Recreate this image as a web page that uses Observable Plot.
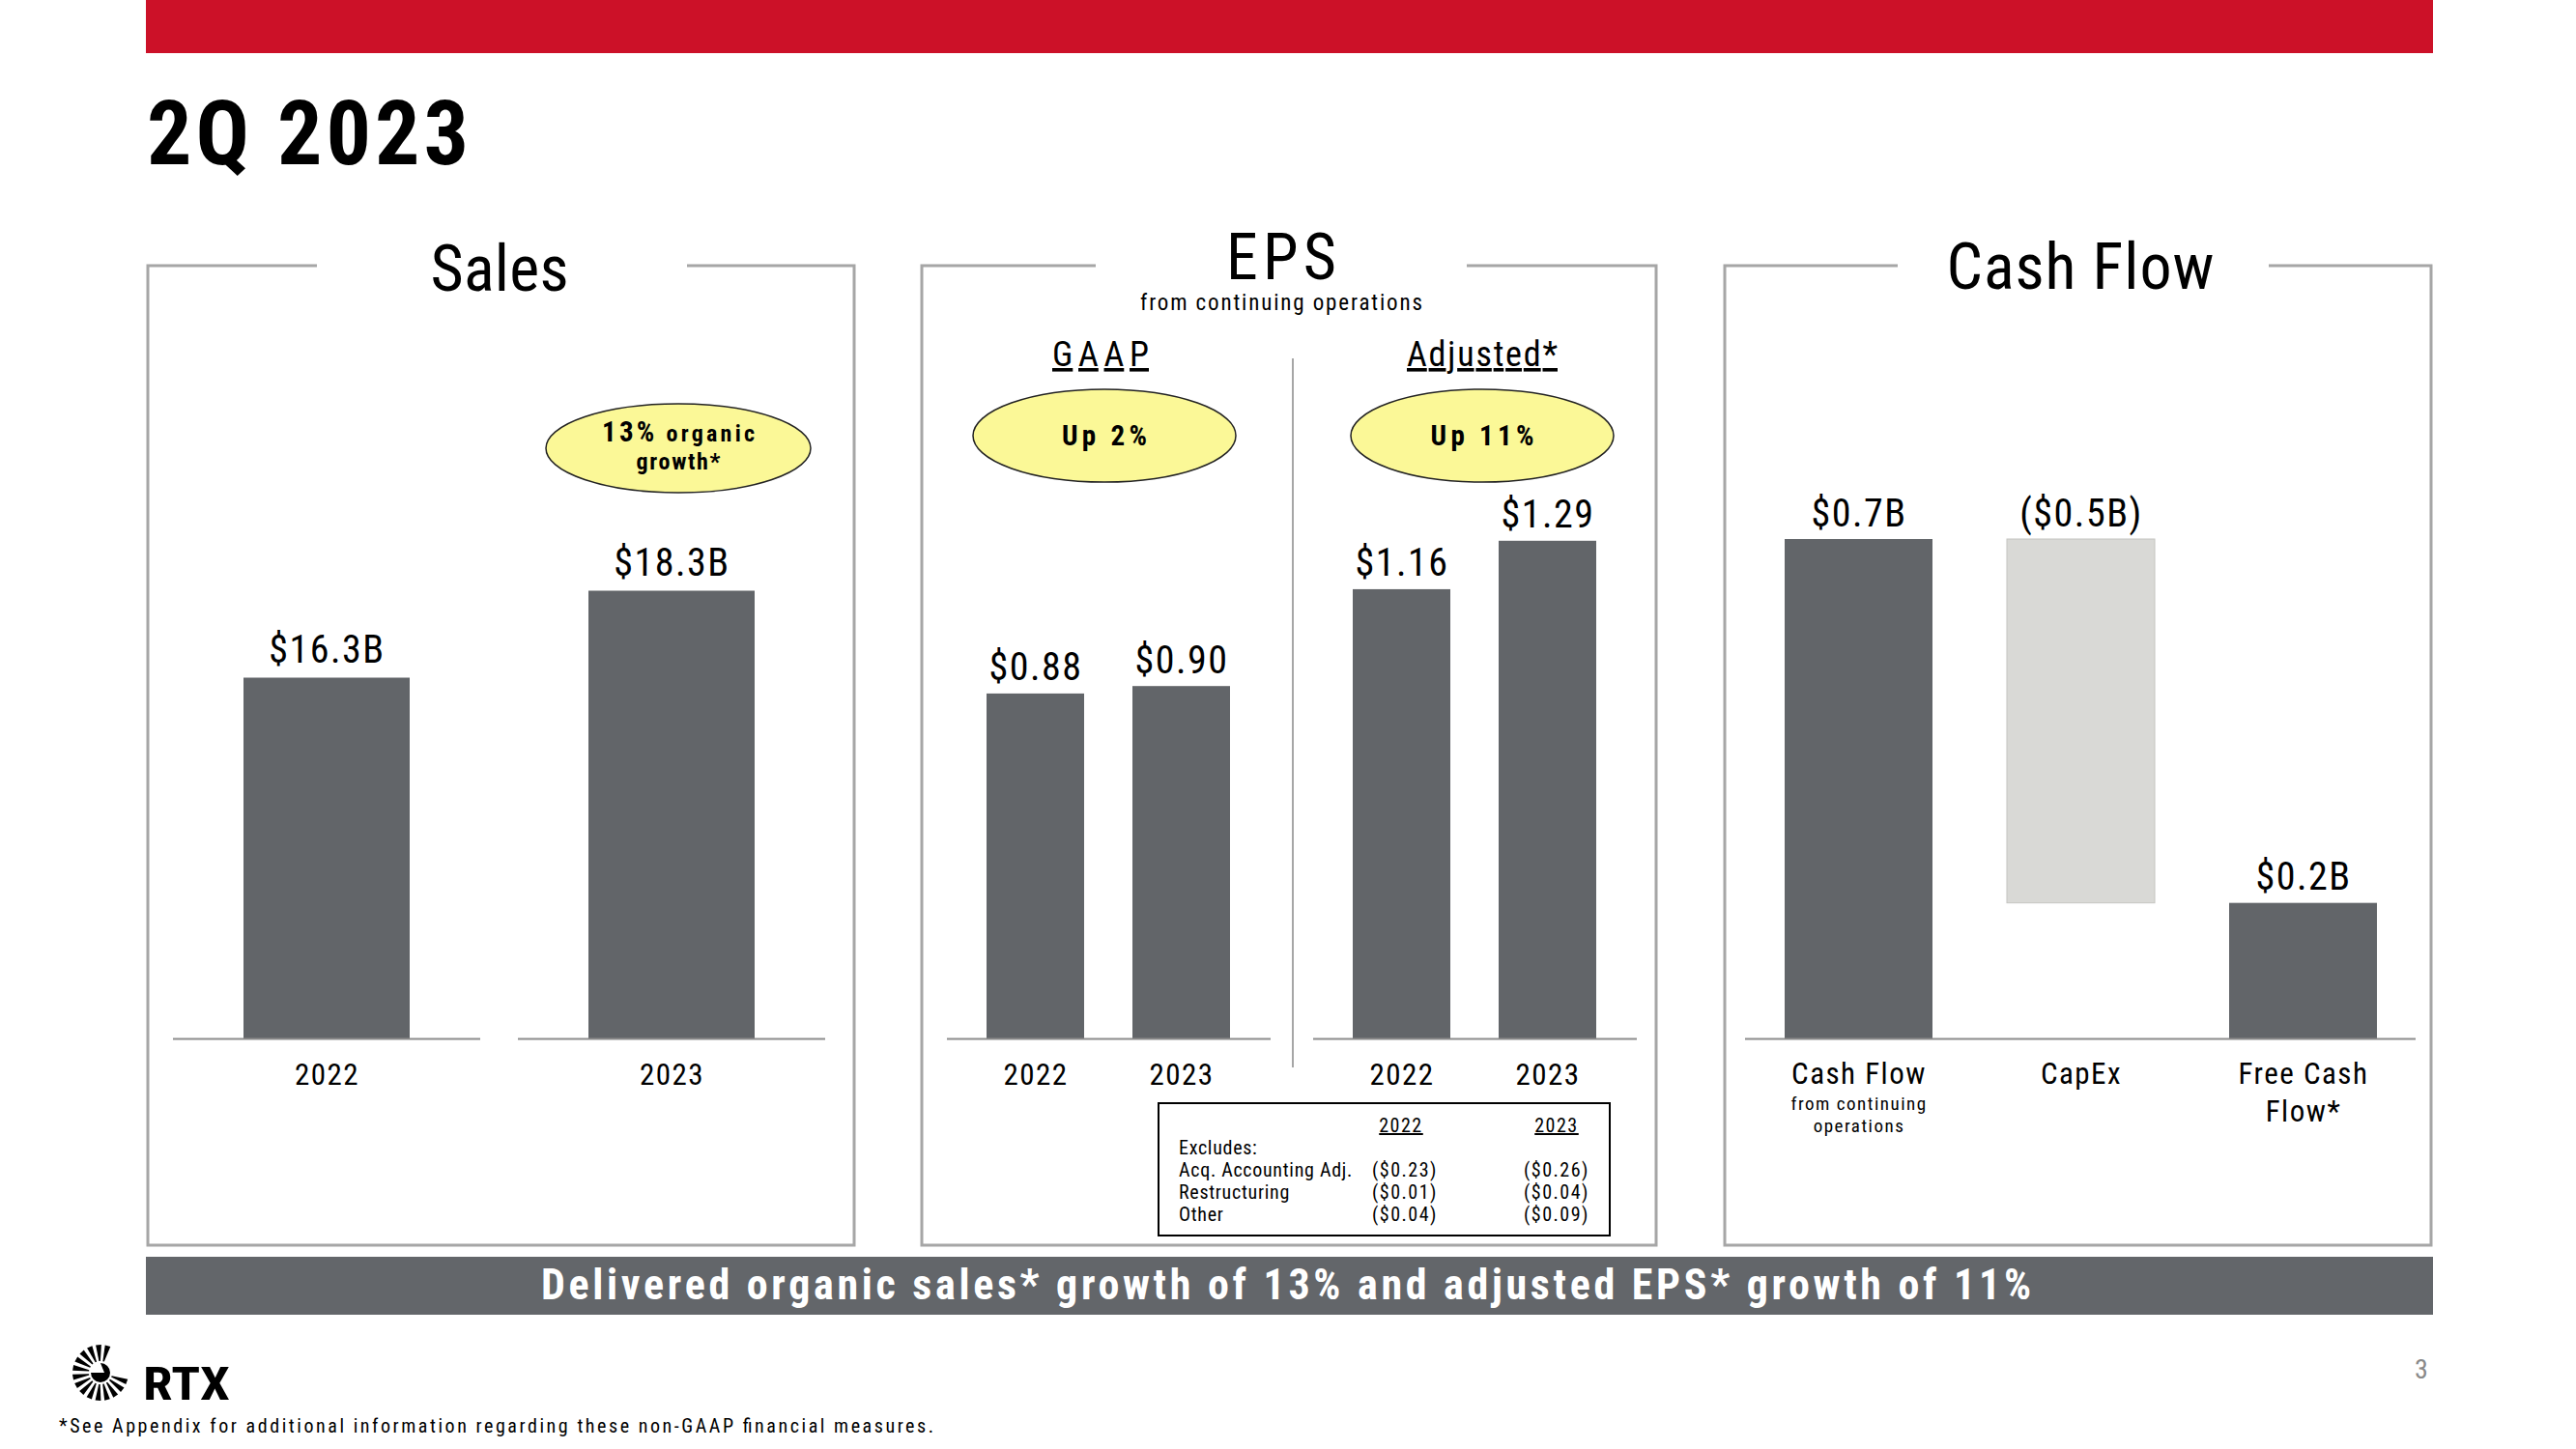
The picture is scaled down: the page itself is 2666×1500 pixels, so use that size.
<!DOCTYPE html>
<html><head><meta charset="utf-8">
<script src="https://cdn.jsdelivr.net/npm/d3@7"></script>
<script src="https://cdn.jsdelivr.net/npm/@observablehq/plot@0.6"></script>
<style>
html,body{margin:0;padding:0;background:#fff}
body{width:2666px;height:1500px;position:relative;overflow:hidden;font-family:'Liberation Sans Narrow','Arial Narrow','Roboto Condensed','DejaVu Sans Condensed',sans-serif}
#deco{position:absolute;left:0;top:0}
#deco text{font-family:'Liberation Sans Narrow','Arial Narrow','Roboto Condensed','DejaVu Sans Condensed',sans-serif}
.holder{position:absolute}
</style></head><body>
<svg id="deco" width="2666" height="1500" viewBox="0 0 2666 1500">
  <rect x="151" y="0" width="2367" height="55" fill="#CC1128"/>
  <text x="152" y="170" font-size="92" font-weight="bold" textLength="333" lengthAdjust="spacing">2Q 2023</text>
  <g fill="none" stroke="#A6A6A6" stroke-width="3">
    <path d="M328 275 H153 V1289 H884 V275 H711"/>
    <path d="M1134 275 H954 V1289 H1714 V275 H1518"/>
    <path d="M1964 275 H1785 V1289 H2516 V275 H2348"/>
    <line x1="1338" y1="371" x2="1338" y2="1105" stroke-width="2"/>
  </g>
  <text x="517" y="301" font-size="66" text-anchor="middle" textLength="143" lengthAdjust="spacing">Sales</text>
  <text x="1326" y="289" font-size="66" text-anchor="middle" textLength="114" lengthAdjust="spacing">EPS</text>
  <text x="1326" y="321" font-size="23" text-anchor="middle" textLength="292" lengthAdjust="spacing">from continuing operations</text>
  <text x="2153" y="299" font-size="66" text-anchor="middle" textLength="277" lengthAdjust="spacing">Cash Flow</text>
  <text x="1139" y="379" font-size="36" text-anchor="middle" textLength="100" lengthAdjust="spacing" text-decoration="underline">GAAP</text>
  <text x="1534" y="379" font-size="36" text-anchor="middle" textLength="156" lengthAdjust="spacing" text-decoration="underline">Adjusted*</text>
  <g fill="#FBF897" stroke="#222" stroke-width="1.5">
    <ellipse cx="702" cy="464" rx="137" ry="46"/>
    <ellipse cx="1143" cy="451" rx="136" ry="48"/>
    <ellipse cx="1534" cy="451" rx="136" ry="48"/>
  </g>
  <g font-weight="bold" text-anchor="middle">
    <text x="702" y="457" font-size="24" textLength="158" lengthAdjust="spacing"><tspan font-size="29">13%</tspan> organic</text>
    <text x="702" y="486" font-size="24" textLength="87" lengthAdjust="spacing">growth*</text>
    <text x="1143" y="461" font-size="29" textLength="88" lengthAdjust="spacing">Up 2%</text>
    <text x="1534" y="461" font-size="29" textLength="107" lengthAdjust="spacing">Up 11%</text>
  </g>
  <rect x="1199" y="1142" width="467" height="137" fill="#fff" stroke="#000" stroke-width="2"/>
  <g font-size="20" letter-spacing="1.5">
    <text x="1450" y="1172" text-anchor="middle" text-decoration="underline">2022</text>
    <text x="1611" y="1172" text-anchor="middle" text-decoration="underline">2023</text>
  </g>
  <rect x="151" y="1301" width="2367" height="60" fill="#63666A"/>
  <text x="1331" y="1345" font-size="44" font-weight="bold" fill="#fff" text-anchor="middle" textLength="1542" lengthAdjust="spacing">Delivered organic sales* growth of 13% and adjusted EPS* growth of 11%</text>
  <g id="logo"></g>
  <text x="148" y="1449" font-size="48" font-weight="bold" textLength="90" lengthAdjust="spacingAndGlyphs">RTX</text>
  <text x="61" y="1483" font-size="20" textLength="905" lengthAdjust="spacing">*See Appendix for additional information regarding these non-GAAP financial measures.</text>
  <text x="2506" y="1427" font-size="28" fill="#8a8a8a" text-anchor="middle">3</text>
</svg>
<script>
// ---------------- data ----------------
const salesYears = ["2022", "2023"];
const salesValues = [16.3, 18.3];
const salesLabels = ["$16.3B", "$18.3B"];

const epsGroups = ["GAAP", "Adjusted*"];
const epsYears = ["2022", "2023"];
const epsGaap = [0.88, 0.90];
const epsAdjusted = [1.16, 1.29];
const epsGaapLabels = ["$0.88", "$0.90"];
const epsAdjustedLabels = ["$1.16", "$1.29"];

const cashCategories = ["Cash Flow", "CapEx", "Free Cash\nFlow*"];
const cashTypes = ["total", "delta", "total"];
const cashValues = [0.70, -0.51, 0.19];
const cashLabels = ["$0.7B", "($0.5B)", "$0.2B"];
const cashSubtitle = ["from continuing\noperations"];

const excludesRows = ["Excludes:", "Acq. Accounting Adj.", "Restructuring", "Other"];
const excludes2022 = ["", "($0.23)", "($0.01)", "($0.04)"];
const excludes2023 = ["", "($0.26)", "($0.04)", "($0.09)"];

// ---------------- styles ----------------
const FONT = "'Liberation Sans Narrow','Arial Narrow','Roboto Condensed','DejaVu Sans Condensed',sans-serif";
const BAR = "#626569";
const LIGHT = "#D9D9D6";
const AXIS = "#8c8c8c";
const baseStyle = {background: "transparent", fontFamily: FONT, fontSize: "31px", color: "#000",
  overflow: "visible", maxWidth: "none", letterSpacing: "1.5px"};

function place(el, left, top) {
  const d = document.createElement("div");
  d.className = "holder";
  d.style.left = left + "px"; d.style.top = top + "px";
  d.appendChild(el);
  document.body.appendChild(d);
}

// excludes table text + logo
(function () {
  const svg = document.getElementById("deco");
  const ns = "http://www.w3.org/2000/svg";
  const g = document.createElementNS(ns, "g");
  g.setAttribute("font-size", "20");
  const rowY = [1195, 1218, 1241, 1264];
  excludesRows.forEach((r, i) => {
    [[r, 1220, "start", 0.7], [excludes2022[i], 1454, "middle", 1.5], [excludes2023[i], 1611, "middle", 1.5]].forEach(([t, x, a, ls]) => {
      if (!t) return;
      const e = document.createElementNS(ns, "text");
      e.setAttribute("x", x); e.setAttribute("y", rowY[i]); e.setAttribute("text-anchor", a);
      e.setAttribute("letter-spacing", ls);
      e.textContent = t; g.appendChild(e);
    });
  });
  svg.appendChild(g);
  const lg = document.getElementById("logo");
  const cx = 104, cy = 1421;
  for (let k = 0; k < 15; k++) {
    const a = (-75 - k * 19) * Math.PI / 180;
    const r0 = 12, r1 = 29, w0 = 0.06, w1 = 0.1;
    const pts = [[r0, a - w0], [r1, a - w1], [r1, a + w1], [r0, a + w0]]
      .map(([r, t]) => (cx + r * Math.cos(t)).toFixed(1) + "," + (cy + r * Math.sin(t)).toFixed(1)).join(" ");
    const p = document.createElementNS(ns, "polygon");
    p.setAttribute("points", pts); p.setAttribute("fill", "#000");
    lg.appendChild(p);
  }
  const c = document.createElementNS(ns, "path");
  c.setAttribute("d", `M${cx} ${cy - 10} A10 10 0 1 1 ${cx - 10} ${cy} L${cx + 4} ${cy} Z`);
  c.setAttribute("fill", "#000");
  lg.appendChild(c);
})();

// ---------------- Sales ----------------
const salesData = salesYears.map((y, i) => ({year: y, value: salesValues[i], label: salesLabels[i]}));
const salesBase = 8;
place(Plot.plot({
  width: 731, height: 1014, marginTop: 80, marginBottom: 214, marginLeft: 26, marginRight: 29,
  style: baseStyle,
  x: {domain: salesYears, paddingInner: 0.109, paddingOuter: 0, label: null, tickSize: 0, tickPadding: 25},
  y: {domain: [salesBase, 24], axis: null},
  marks: [
    Plot.barY(salesData, {x: "year", y1: salesBase, y2: "value", fill: BAR, insetLeft: 73, insetRight: 73}),
    Plot.tickY(salesData, {x: "year", y: salesBase, stroke: AXIS, strokeWidth: 2}),
    Plot.text(salesData, {x: "year", y: "value", text: "label", dy: -16, lineAnchor: "bottom", fontSize: 40})
  ]
}), 153, 275);

// ---------------- EPS ----------------
const epsData = [
  ...epsYears.map((y, i) => ({group: epsGroups[0], year: y, value: epsGaap[i], label: epsGaapLabels[i]})),
  ...epsYears.map((y, i) => ({group: epsGroups[1], year: y, value: epsAdjusted[i], label: epsAdjustedLabels[i]}))
];
const epsBase = -0.046;
place(Plot.plot({
  width: 760, height: 1014, marginTop: 11, marginBottom: 214, marginLeft: 25, marginRight: 19,
  style: baseStyle,
  fx: {domain: epsGroups, paddingInner: 0.115, paddingOuter: 0, axis: null, label: null},
  x: {domain: epsYears, paddingInner: 0.33, paddingOuter: 0.27, label: null, tickSize: 0, tickPadding: 25},
  y: {domain: [epsBase, 2.0], axis: null},
  marks: [
    Plot.barY(epsData, {fx: "group", x: "year", y1: epsBase, y2: "value", fill: BAR}),
    Plot.ruleY([epsBase], {stroke: AXIS, strokeWidth: 2}),
    Plot.text(epsData, {fx: "group", x: "year", y: "value", text: "label", dy: -14, lineAnchor: "bottom", fontSize: 40})
  ]
}), 954, 275);

// ---------------- Cash Flow ----------------
let running = 0;
const cashData = cashCategories.map((c, i) => {
  const v = cashValues[i];
  let a, b;
  if (cashTypes[i] === "total") { a = 0; b = v; running = v; }
  else { a = running; b = running + v; running = b; }
  return {cat: c, type: cashTypes[i], y1: Math.min(a, b), y2: Math.max(a, b), label: cashLabels[i]};
});
place(Plot.plot({
  width: 731, height: 1014, marginTop: 24.5, marginBottom: 214, marginLeft: 21, marginRight: 16,
  style: baseStyle,
  x: {domain: cashCategories, paddingInner: 0.336, paddingOuter: 0.1735, label: null},
  y: {domain: [0, 1.05], axis: null},
  marks: [
    Plot.barY(cashData.filter(d => d.type === "total"), {x: "cat", y1: "y1", y2: "y2", fill: BAR}),
    Plot.barY(cashData.filter(d => d.type === "delta"), {x: "cat", y1: "y1", y2: "y2", fill: LIGHT, stroke: "#C4C4C0", strokeWidth: 1}),
    Plot.ruleY([0], {stroke: AXIS, strokeWidth: 2}),
    Plot.text(cashData, {x: "cat", y: "y2", text: "label", dy: -14, lineAnchor: "bottom", fontSize: 40}),
    Plot.axisX({tickSize: 0, tickPadding: 19, lineHeight: 1.26, label: null}),
    Plot.text(cashSubtitle, {x: () => cashCategories[0], y: () => 0, text: d => d, dy: 56, lineAnchor: "top",
      fontSize: 19, lineHeight: 1.26, letterSpacing: 0.5})
  ]
}), 1785, 275);
</script>
</body></html>
